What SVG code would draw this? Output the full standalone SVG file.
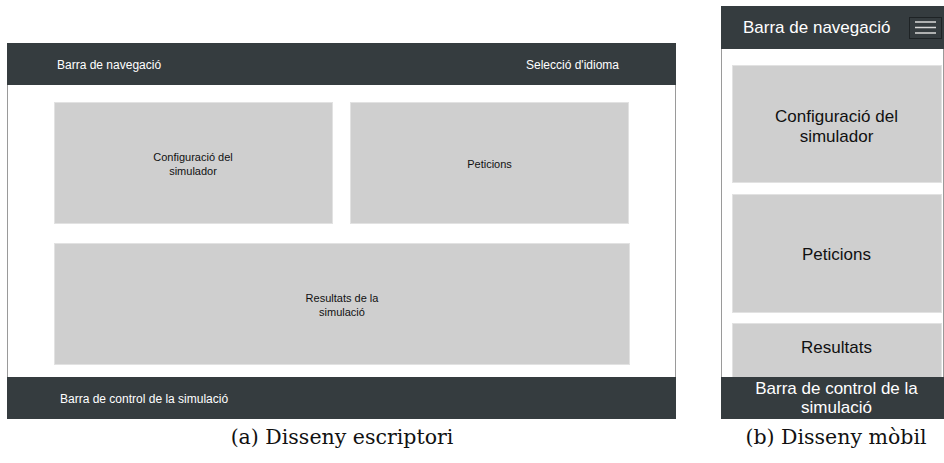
<svg xmlns="http://www.w3.org/2000/svg" width="944" height="463" viewBox="0 0 944 463">
  <style>
    .frame { fill: #ffffff; stroke: #9a9a9a; stroke-width: 1; }
    .bar { fill: #353c3f; }
    .panel { fill: #cfcfcf; stroke: #e2e2e2; stroke-width: 1; }
    .t { font-family: "Liberation Sans", Arial, sans-serif; }
    .bar-t { fill: #ffffff; }
    .panel-t { fill: #111111; }
    .cap { font-family: "DejaVu Serif", "Liberation Serif", serif; font-size: 20.5px; fill: #111111; text-anchor: middle; }
  </style>

  <!-- Desktop layout -->
  <g id="desktop">
    <rect class="frame" x="7.5" y="43.5" width="668" height="375"/>
    <g id="desk-nav">
      <rect class="bar" x="7" y="43" width="669" height="42"/>
      <text class="t bar-t" x="57" y="69" font-size="12">Barra de navegació</text>
      <text class="t bar-t" x="619" y="69" font-size="12" text-anchor="end">Selecció d'idioma</text>
    </g>
    <g id="desk-config">
      <rect class="panel" x="54.5" y="102.5" width="278" height="121"/>
      <text class="t panel-t" font-size="11" text-anchor="middle"><tspan x="193" y="161">Configuració del</tspan><tspan x="193" y="175">simulador</tspan></text>
    </g>
    <g id="desk-requests">
      <rect class="panel" x="350.5" y="102.5" width="278" height="121"/>
      <text class="t panel-t" x="489.5" y="168" font-size="11" text-anchor="middle">Peticions</text>
    </g>
    <g id="desk-results">
      <rect class="panel" x="54.5" y="243.5" width="575" height="121"/>
      <text class="t panel-t" font-size="11" text-anchor="middle"><tspan x="342" y="302">Resultats de la</tspan><tspan x="342" y="316">simulació</tspan></text>
    </g>
    <g id="desk-control">
      <rect class="bar" x="7" y="377" width="669" height="42"/>
      <text class="t bar-t" x="60" y="403" font-size="12">Barra de control de la simulació</text>
    </g>
    <text class="cap" x="342" y="444">(a) Disseny escriptori</text>
  </g>

  <!-- Mobile layout -->
  <g id="mobile">
    <rect class="frame" x="721.5" y="6.5" width="222" height="412"/>
    <g id="mob-nav">
      <rect class="bar" x="721" y="6" width="223" height="43"/>
      <text class="t bar-t" x="743" y="33" font-size="17">Barra de navegació</text>
      <g id="mob-menu">
        <rect x="909.5" y="17.5" width="32" height="21" fill="none" stroke="#1e2325" stroke-width="1"/>
        <g stroke="#d8d8d8" stroke-width="1.5">
          <line x1="915" y1="22" x2="936" y2="22"/>
          <line x1="915" y1="27.5" x2="936" y2="27.5"/>
          <line x1="915" y1="33" x2="936" y2="33"/>
        </g>
      </g>
    </g>
    <g id="mob-config">
      <rect class="panel" x="732.5" y="65.5" width="209" height="117"/>
      <text class="t panel-t" font-size="17" text-anchor="middle"><tspan x="836.5" y="122">Configuració del</tspan><tspan x="836.5" y="142">simulador</tspan></text>
    </g>
    <g id="mob-requests">
      <rect class="panel" x="732.5" y="194.5" width="209" height="118"/>
      <text class="t panel-t" x="836.5" y="260" font-size="17" text-anchor="middle">Peticions</text>
    </g>
    <g id="mob-results">
      <rect class="panel" x="732.5" y="323.5" width="209" height="60"/>
      <text class="t panel-t" x="836.5" y="353" font-size="17" text-anchor="middle">Resultats</text>
    </g>
    <g id="mob-control">
      <rect class="bar" x="721" y="377" width="223" height="42"/>
      <text class="t bar-t" font-size="17" text-anchor="middle"><tspan x="836.5" y="394">Barra de control de la</tspan><tspan x="836.5" y="413">simulació</tspan></text>
    </g>
    <text class="cap" x="836" y="444">(b) Disseny mòbil</text>
  </g>
</svg>
